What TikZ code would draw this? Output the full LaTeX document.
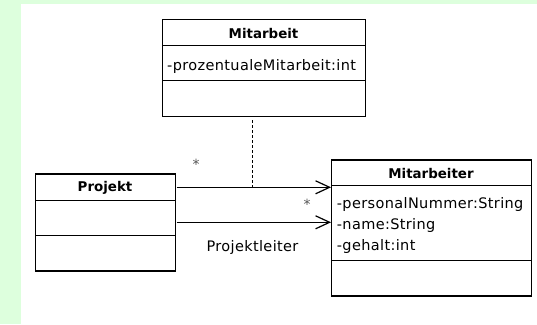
\documentclass[tikz,border=0pt]{standalone}
\usepackage{fontspec}
\setmainfont{DejaVu Sans}
\newfontfamily\attrfont[LetterSpace=2.5]{DejaVu Sans}
\usetikzlibrary{arrows.meta}
\definecolor{bggreen}{HTML}{DDFFDD}
\definecolor{stargray}{HTML}{555555}
\tikzset{
  classbox/.style={draw, line width=1.3pt, inner sep=0pt, fill=white, anchor=north west},
  divider/.style={line width=1.3pt},
  classtitle/.style={font=\bfseries\fontsize{13.4}{16}\selectfont, anchor=base, inner sep=0pt},
  attr/.style={font=\attrfont\fontsize{14.5}{17}\selectfont, anchor=base west, inner sep=0pt},
  assoc/.style={line width=1.2pt, -{Straight Barb[length=14pt, width=13pt, line width=1.2pt]}},
  mult/.style={font=\fontsize{14}{15}\selectfont, text=stargray, inner sep=0pt},
  dashline/.style={line width=1pt, dash pattern=on 3pt off 2pt},
}
\begin{document}
\begin{tikzpicture}[x=1pt, y=-1pt]
\useasboundingbox (0,0) rectangle (537,324);
\fill[bggreen] (0,0) rectangle (537,324);
\fill[white] (20.7,4) rectangle (537,324);

% Mitarbeit (association class)
\node[classbox, minimum width=203pt, minimum height=97pt] (mitarbeit) at (162,18.7) {};
\draw[divider] (mitarbeit.west |- 0,45.3) -- (mitarbeit.east |- 0,45.3);
\draw[divider] (mitarbeit.west |- 0,80.5) -- (mitarbeit.east |- 0,80.5);
\node[classtitle] (mitarbeitT) at (263.5,38.3) {Mitarbeit};
\node[attr] (mitarbeitA) at (167,70) {-prozentualeMitarbeit:int};

% Projekt
\node[classbox, minimum width=140pt, minimum height=97pt] (projekt) at (35,173.3) {};
\draw[divider] (projekt.west |- 0,200.3) -- (projekt.east |- 0,200.3);
\draw[divider] (projekt.west |- 0,235.3) -- (projekt.east |- 0,235.3);
\node[classtitle] (projektT) at (105,191.7) {Projekt};

% Mitarbeiter
\node[classbox, minimum width=200pt, minimum height=136pt] (mitarbeiter) at (331,159.3) {};
\draw[divider] (mitarbeiter.west |- 0,185.7) -- (mitarbeiter.east |- 0,185.7);
\draw[divider] (mitarbeiter.west |- 0,260.5) -- (mitarbeiter.east |- 0,260.5);
\node[classtitle] (mitarbeiterT) at (431,178.3) {Mitarbeiter};
\node[attr] (attr1) at (336.7,208.4) {-personalNummer:String};
\node[attr] (attr2) at (336.7,229.4) {-name:String};
\node[attr] (attr3) at (336.7,250.4) {-gehalt:int};

% associations
\coordinate (a1s) at (176.5,187.3);
\coordinate (a2s) at (176.5,222.3);
\draw[assoc] (a1s) -- (mitarbeiter.west |- a1s);
\draw[assoc] (a2s) -- (mitarbeiter.west |- a2s);

% association class link
\coordinate (dashend) at (252.5,189.5);
\draw[dashline] (mitarbeit.south -| dashend) ++(0,3.3) -- (dashend);

% labels
\node[mult] (star1) at (196,164.5) {*};
\node[mult] (star2) at (307,204.5) {*};
\node[attr, anchor=base] (rolle) at (252.5,251) {Projektleiter};
\end{tikzpicture}
\end{document}
